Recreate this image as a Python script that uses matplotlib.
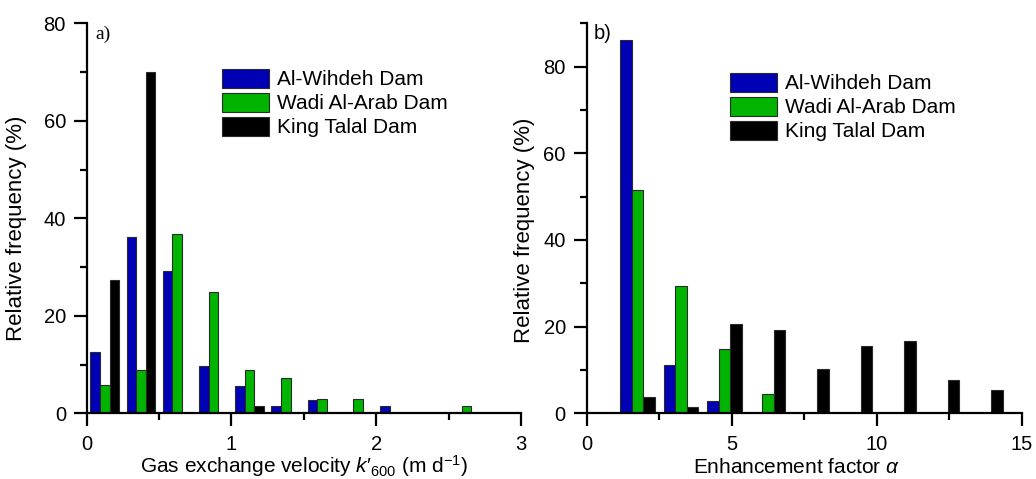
import numpy as np
import matplotlib
matplotlib.use("Agg")
import matplotlib.pyplot as plt
from matplotlib.ticker import MultipleLocator

plt.rcParams['font.family'] = ['Liberation Sans', 'DejaVu Sans']
plt.rcParams['mathtext.fontset'] = 'custom'
plt.rcParams['mathtext.rm'] = 'Liberation Sans'
plt.rcParams['mathtext.it'] = 'Liberation Sans:italic'

# ---- data -------------------------------------------------------------
series_names = ["Al-Wihdeh Dam", "Wadi Al-Arab Dam", "King Talal Dam"]
series_colors = ["#0000b4", "#00b400", "#000000"]

# a) gas exchange velocity k'600 (m/d), bin centres
k600_bins = [0.125, 0.375, 0.625, 0.875, 1.125, 1.375, 1.625, 1.875, 2.125, 2.375, 2.625]
k600_wihdeh = [12.5, 36.1, 29.2, 9.7, 5.6, 1.4, 2.8, 0.0, 1.4, 0.0, 0.0]
k600_wadi = [5.8, 8.8, 36.7, 24.9, 8.8, 7.3, 2.9, 2.9, 0.0, 0.0, 1.4]
k600_talal = [27.3, 70.1, 0.0, 0.0, 1.4, 0.0, 0.0, 0.0, 0.0, 0.0, 0.0]

# b) enhancement factor alpha, bin centres
alpha_bins = [1.75, 3.25, 4.75, 6.25, 7.75, 9.25, 10.75, 12.25, 13.75]
alpha_wihdeh = [86.1, 11.2, 2.8, 0.0, 0.0, 0.0, 0.0, 0.0, 0.0]
alpha_wadi = [51.5, 29.4, 14.8, 4.4, 0.0, 0.0, 0.0, 0.0, 0.0]
alpha_talal = [3.8, 1.5, 20.5, 19.3, 10.3, 15.5, 16.7, 7.7, 5.4]

TICK_FS = 14.5
XLABEL_FS = 15
YLABEL_FS = 16
LEG_FS = 15


def grouped_bars(ax, centers, groups, width):
    centers = np.asarray(centers)
    for i, (vals, color, name) in enumerate(zip(groups, series_colors, series_names)):
        vals = np.asarray(vals)
        keep = vals > 0
        x = centers + (i - 1) * width
        ax.bar(x[keep], vals[keep], width=width, color=color,
               edgecolor="#2a2a2a", linewidth=0.8, label=name, zorder=2)


def style_axis(ax):
    for s in ("top", "right"):
        ax.spines[s].set_visible(False)
    for s in ("left", "bottom"):
        ax.spines[s].set_linewidth(1.6)
        ax.spines[s].set_zorder(3)
    ax.tick_params(which="major", direction="out", length=9.5, width=1.6,
                   labelsize=TICK_FS)
    ax.tick_params(which="minor", direction="out", length=5, width=1.6)
    ax.tick_params(axis="x", which="major", pad=6)
    ax.tick_params(axis="y", which="major", pad=5.5)


def add_legend(ax, left_px, top_px):
    ax.legend(loc="upper left", bbox_to_anchor=(left_px / 1036, 1 - top_px / 479),
              bbox_transform=fig.transFigure, frameon=False, fontsize=LEG_FS,
              handlelength=2.25, handleheight=1.0, labelspacing=0.17,
              handletextpad=0.38, borderpad=0, borderaxespad=0)


fig = plt.figure(figsize=(10.36, 4.79), dpi=100)
ax1 = fig.add_axes([0.0837, 0.1372, 0.4192, 0.8142])
ax2 = fig.add_axes([0.5663, 0.1372, 0.4199, 0.8142])

# ---- panel a ----
grouped_bars(ax1, k600_bins, [k600_wihdeh, k600_wadi, k600_talal], 0.066)
ax1.set_xlim(0, 3)
ax1.set_ylim(0, 80)
ax1.xaxis.set_major_locator(MultipleLocator(1))
ax1.xaxis.set_minor_locator(MultipleLocator(0.5))
ax1.yaxis.set_major_locator(MultipleLocator(20))
ax1.yaxis.set_minor_locator(MultipleLocator(10))
style_axis(ax1)
ax1.set_xlabel(r"Gas exchange velocity $k$′$_{600}$ (m d$^{-1}$)", fontsize=XLABEL_FS)
ax1.xaxis.label.set_va("baseline")
ax1.xaxis.set_label_coords(0.5, -0.153)
ax1.set_ylabel("Relative frequency (%)", fontsize=YLABEL_FS)
ax1.yaxis.set_label_coords(-0.1375, 0.473)
ax1.text(0.019, 0.993, "a)", transform=ax1.transAxes, fontsize=14,
         family="Liberation Serif", va="top", ha="left")
add_legend(ax1, 222, 69)

# ---- panel b ----
grouped_bars(ax2, alpha_bins, [alpha_wihdeh, alpha_wadi, alpha_talal], 0.4)
ax2.set_xlim(0, 15)
ax2.set_ylim(0, 90)
ax2.xaxis.set_major_locator(MultipleLocator(5))
ax2.xaxis.set_minor_locator(MultipleLocator(2.5))
ax2.set_yticks([0, 20, 40, 60, 80])
ax2.yaxis.set_minor_locator(MultipleLocator(10))
style_axis(ax2)
ax2.set_xlabel(r"Enhancement factor $\alpha$", fontsize=XLABEL_FS)
ax2.xaxis.label.set_va("baseline")
ax2.xaxis.set_label_coords(0.482, -0.153)
ax2.set_ylabel("Relative frequency (%)", fontsize=YLABEL_FS)
ax2.yaxis.set_label_coords(-0.119, 0.47)
ax2.text(0.017, 0.998, "b)", transform=ax2.transAxes, fontsize=14.5,
         va="top", ha="left")
add_legend(ax2, 730, 73)

fig.savefig("out.png", dpi=100)
